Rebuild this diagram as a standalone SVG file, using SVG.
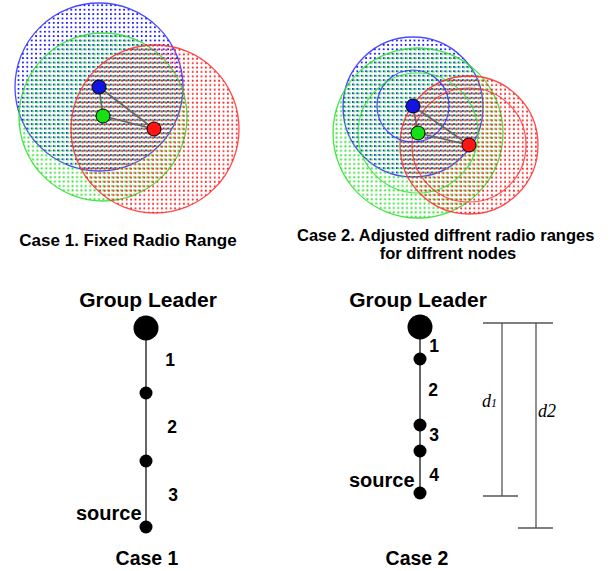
<svg xmlns="http://www.w3.org/2000/svg" width="612" height="571" viewBox="0 0 612 571">
<style>
.lbl{font-family:"Liberation Sans",Arial,sans-serif;font-weight:bold;fill:#000}
.cap{font-size:17px}
.cap2{font-size:16.5px}
.big{font-size:21px}
.case{font-size:19.5px}
.src{font-size:20px}
.num{font-size:17.5px}
.dim{font-family:"Liberation Serif","Times New Roman",serif;font-style:italic;font-size:18px;fill:#000}
.rb{fill:url(#pb);stroke:#2a2aff;stroke-width:1.3;stroke-opacity:0.85}
.rg{fill:url(#pg);stroke:#2ae02a;stroke-width:1.3;stroke-opacity:0.85}
.rr{fill:url(#pr);stroke:#ff2a2a;stroke-width:1.3;stroke-opacity:0.85}
.ib{fill:none;stroke:#2a2aff;stroke-width:1.2;stroke-opacity:0.8}
.ig{fill:none;stroke:#2ae02a;stroke-width:1.2;stroke-opacity:0.8}
.ir{fill:none;stroke:#ff2a2a;stroke-width:1.2;stroke-opacity:0.8}
.nb{fill:#1414e0;stroke:#000;stroke-width:1}
.ng{fill:#14e014;stroke:#000;stroke-width:1}
.nr{fill:#ff1414;stroke:#000;stroke-width:1}
.edge{stroke:#666;stroke-width:1.6;fill:none}
.chain{stroke:#000;stroke-width:1.2;fill:none}
.dl{stroke:#555;stroke-width:1.3;fill:none}
.dot{fill:#000}
</style>
<defs>
<pattern id="pb" patternUnits="userSpaceOnUse" width="4.4" height="4.4"><rect x="0" y="0" width="1.8" height="1.8" fill="#2020ff"/></pattern>
<pattern id="pg" patternUnits="userSpaceOnUse" width="4.4" height="4.4"><rect x="1.3" y="0.3" width="1.8" height="1.8" fill="#20e020"/></pattern>
<pattern id="pr" patternUnits="userSpaceOnUse" width="4.4" height="4.4"><rect x="2.6" y="0.6" width="1.8" height="1.8" fill="#ff2020"/></pattern>
<clipPath id="cut"><rect x="0" y="0" width="597" height="571"/></clipPath>
</defs>

<!-- Case 1 ranges -->
<g id="case1-ranges">
<circle class="rb" cx="99" cy="87" r="84"/>
<circle class="rg" cx="103" cy="117" r="84"/>
<circle class="rr" cx="155" cy="129" r="84"/>
</g>
<!-- Case 2 ranges -->
<g id="case2-ranges">
<circle class="rb" cx="413" cy="107" r="70"/>
<circle class="rg" cx="418" cy="133" r="85"/>
<circle class="rr" cx="469" cy="145" r="69"/>
<circle class="ib" cx="413" cy="106" r="36"/>
<circle class="ig" cx="418" cy="133" r="60"/>
<circle class="ir" cx="469" cy="145" r="57"/>
</g>

<g id="connectors">
<line class="edge" x1="99" y1="87" x2="154" y2="129"/>
<line class="edge" x1="103" y1="116" x2="154" y2="129"/>
<line class="edge" x1="99" y1="87" x2="103" y2="116"/>
<line class="edge" x1="413" y1="106" x2="469" y2="145"/>
<line class="edge" x1="418" y1="133" x2="469" y2="145"/>
<line class="edge" x1="413" y1="106" x2="418" y2="133"/>
<line class="chain" x1="146" y1="328" x2="146" y2="527"/>
<line class="chain" x1="420" y1="327" x2="420" y2="493"/>
</g>

<g id="c1-blue"><circle class="nb" cx="99" cy="87" r="7"/></g>
<g id="c1-green"><circle class="ng" cx="103" cy="116" r="7"/></g>
<g id="c1-red"><circle class="nr" cx="154" cy="129" r="7"/></g>
<g id="c2-blue"><circle class="nb" cx="413" cy="106" r="7"/></g>
<g id="c2-green"><circle class="ng" cx="418" cy="133" r="7"/></g>
<g id="c2-red"><circle class="nr" cx="469" cy="145" r="7"/></g>

<text class="lbl cap" x="128" y="246" text-anchor="middle">Case 1. Fixed Radio Range</text>
<text class="lbl cap2" x="297" y="241" clip-path="url(#cut)">Case 2. Adjusted diffrent radio ranges</text>
<text class="lbl cap2" x="448" y="259" text-anchor="middle">for diffrent nodes</text>

<!-- Case 1 chain -->
<text class="lbl big" x="148" y="307" text-anchor="middle">Group Leader</text>
<g id="c1-leader"><circle class="dot" cx="146" cy="328" r="12.5"/></g>
<g id="c1-n1"><circle class="dot" cx="146" cy="393" r="6.5"/></g>
<g id="c1-n2"><circle class="dot" cx="146" cy="461" r="6.5"/></g>
<g id="c1-source"><circle class="dot" cx="146" cy="527" r="6.5"/><text class="lbl src" x="76" y="520">source</text></g>
<text class="lbl num" x="170" y="366" text-anchor="middle">1</text>
<text class="lbl num" x="172" y="433" text-anchor="middle">2</text>
<text class="lbl num" x="173" y="501" text-anchor="middle">3</text>
<text class="lbl case" x="147" y="565" text-anchor="middle">Case 1</text>

<!-- Case 2 chain -->
<text class="lbl big" x="418" y="307" text-anchor="middle">Group Leader</text>
<g id="c2-leader"><circle class="dot" cx="420" cy="327" r="12.5"/></g>
<g id="c2-n1"><circle class="dot" cx="420" cy="359" r="6.5"/></g>
<g id="c2-n2"><circle class="dot" cx="420" cy="425" r="6.5"/></g>
<g id="c2-n3"><circle class="dot" cx="420" cy="451" r="6.5"/></g>
<g id="c2-source"><circle class="dot" cx="420" cy="493" r="6.5"/><text class="lbl src" x="349" y="487">source</text></g>
<text class="lbl num" x="434" y="352" text-anchor="middle">1</text>
<text class="lbl num" x="433" y="396" text-anchor="middle">2</text>
<text class="lbl num" x="434" y="441" text-anchor="middle">3</text>
<text class="lbl num" x="434" y="481" text-anchor="middle">4</text>
<text class="lbl case" x="417" y="565" text-anchor="middle">Case 2</text>

<!-- dimension bars -->
<g id="dim-d1">
<line class="dl" x1="483" y1="323" x2="553" y2="323"/>
<line class="dl" x1="502" y1="323" x2="502" y2="496"/>
<line class="dl" x1="483" y1="496" x2="518" y2="496"/>
<text class="dim" x="482" y="407">d<tspan font-size="12">1</tspan></text>
</g>
<g id="dim-d2">
<line class="dl" x1="536" y1="323" x2="536" y2="528"/>
<line class="dl" x1="518" y1="528" x2="553" y2="528"/>
<text class="dim" x="538" y="417">d2</text>
</g>
</svg>
